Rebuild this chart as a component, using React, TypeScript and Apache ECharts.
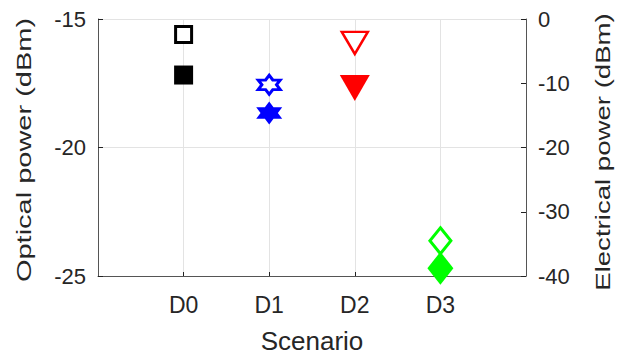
import React, { useEffect, useRef } from "react";
import * as echarts from "echarts";

// Scenario names along the x axis
const scenarios = ["D0", "D1", "D2", "D3"];
// Optical power per scenario (dBm, left axis) – hollow markers
const opticalPower = [-15.6, -17.56, -15.93, -23.63];
// Electrical power per scenario (dBm, right axis) – filled markers
const electricalPower = [-8.72, -14.63, -10.74, -38.8];
// Left and right tick values
const opticalTicks = [-25, -20, -15];
const electricalTicks = [-40, -30, -20, -10, 0];

const colors = ["#000000", "#0000ff", "#ff0000", "#00ff00"];

const HEXAGRAM =
  "path://M100,0 L128.87,50 L186.6,50 L157.74,100 L186.6,150 L128.87,150 L100,200 L71.13,150 L13.4,150 L42.26,100 L13.4,50 L71.13,50 Z";
const TRI_DOWN = "path://M0,0 L200,0 L100,173 Z";

const hollowSymbols = [
  { symbol: "rect", size: [16, 16], border: 3 },
  { symbol: HEXAGRAM, size: [22, 19], border: 3 },
  { symbol: TRI_DOWN, size: [26, 22], border: 2.5 },
  { symbol: "diamond", size: [21, 26], border: 3 },
];
const filledSymbols = [
  { symbol: "rect", size: [19, 19] },
  { symbol: HEXAGRAM, size: [26, 23] },
  { symbol: TRI_DOWN, size: [30, 26] },
  { symbol: "diamond", size: [26, 33] },
];

const FONT = "'Liberation Sans', Arial, Helvetica, sans-serif";
const TEXT = "#262626";
const AXIS = "#555555";

export default function App() {
  const ref = useRef<HTMLDivElement>(null);

  useEffect(() => {
    if (!ref.current) return;
    const chart = echarts.init(ref.current, null, { renderer: "svg" });

    const opticalData = opticalPower.map((v, i) => ({
      value: [i, v],
      symbol: hollowSymbols[i].symbol,
      symbolSize: hollowSymbols[i].size,
      itemStyle: {
        color: "#ffffff",
        borderColor: colors[i],
        borderWidth: hollowSymbols[i].border,
        opacity: 1,
      },
    }));
    const electricalData = electricalPower.map((v, i) => ({
      value: [i, v],
      symbol: filledSymbols[i].symbol,
      symbolSize: filledSymbols[i].size,
      itemStyle: { color: colors[i], borderWidth: 0, opacity: 1 },
    }));

    chart.setOption({
      animation: false,
      backgroundColor: "#ffffff",
      grid: {
        left: 98,
        right: 114,
        top: 19,
        bottom: 83,
        containLabel: false,
        outerBoundsMode: "none",
      },
      xAxis: {
        type: "value",
        min: -1,
        max: 4,
        interval: 1,
        name: "Scenario",
        nameLocation: "middle",
        nameGap: 52,
        nameTextStyle: { fontFamily: FONT, fontSize: 26, color: TEXT },
        axisLine: { show: true, onZero: false, lineStyle: { color: AXIS, width: 1 } },
        axisTick: {
          show: true,
          inside: true,
          length: 4,
          customValues: scenarios.map((_, i) => i),
          lineStyle: { color: "#222" },
        },
        axisLabel: {
          customValues: scenarios.map((_, i) => i),
          formatter: (v: number) => scenarios[v] ?? "",
          fontFamily: FONT,
          fontSize: 23,
          color: TEXT,
          margin: 17,
        },
        splitLine: { show: true, lineStyle: { color: "#e3e3e3", width: 1 } },
      },
      yAxis: [
        {
          type: "value",
          min: opticalTicks[0],
          max: opticalTicks[opticalTicks.length - 1],
          interval: 5,
          position: "left",
          axisLine: { show: true, onZero: false, lineStyle: { color: AXIS, width: 1 } },
          axisTick: { show: true, inside: true, length: 5, lineStyle: { color: "#222" } },
          axisLabel: { fontFamily: FONT, fontSize: 22, color: TEXT, margin: 12 },
          splitLine: { show: true, lineStyle: { color: "#e3e3e3", width: 1 } },
        },
        {
          type: "value",
          min: electricalTicks[0],
          max: electricalTicks[electricalTicks.length - 1],
          interval: 10,
          position: "right",
          axisLine: { show: true, onZero: false, lineStyle: { color: AXIS, width: 1 } },
          axisTick: { show: true, inside: true, length: 5, lineStyle: { color: "#222" } },
          axisLabel: { fontFamily: FONT, fontSize: 22, color: TEXT, margin: 12 },
          splitLine: { show: false },
        },
      ],
      graphic: [
        {
          type: "text",
          x: 24,
          y: 150,
          rotation: Math.PI / 2,
          scaleX: 1.45,
          style: {
            text: "Optical power (dBm)",
            font: `20px ${FONT}`,
            fill: TEXT,
            align: "center",
            verticalAlign: "middle",
          },
        },
        {
          type: "text",
          x: 603,
          y: 152,
          rotation: Math.PI / 2,
          scaleX: 1.38,
          style: {
            text: "Electrical power (dBm)",
            font: `20px ${FONT}`,
            fill: TEXT,
            align: "center",
            verticalAlign: "middle",
          },
        },
      ],
      series: [
        {
          name: "Optical power",
          type: "scatter",
          yAxisIndex: 0,
          data: opticalData,
          itemStyle: { opacity: 1 },
          z: 3,
        },
        {
          name: "Electrical power",
          type: "scatter",
          yAxisIndex: 1,
          data: electricalData,
          itemStyle: { opacity: 1 },
          z: 3,
        },
      ],
    });

    return () => chart.dispose();
  }, []);

  return <div ref={ref} style={{ width: 640, height: 359, position: "absolute", left: 0, top: 0 }} />;
}
